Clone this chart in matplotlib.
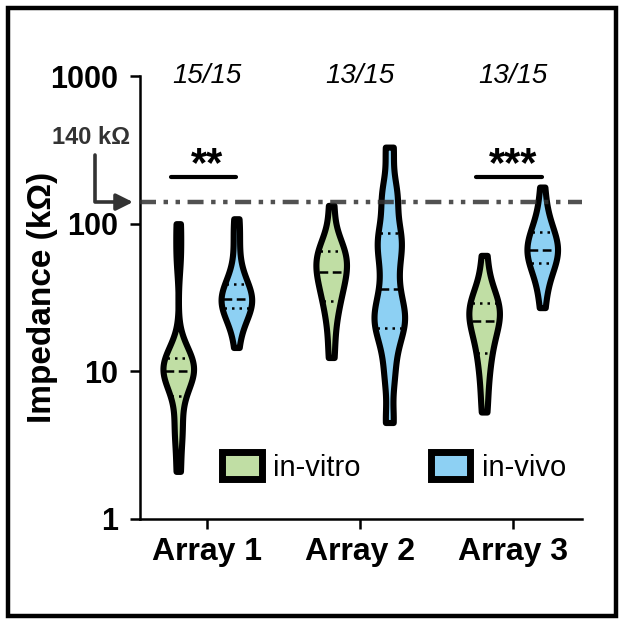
import matplotlib
matplotlib.use("Agg")
import matplotlib.pyplot as plt
import numpy as np
from matplotlib.patches import Patch, Rectangle


# impedance values (kOhm)
array1_vitro = [2.1, 3.6, 4.4, 6.8, 8.5, 9.3, 9.8, 10.0, 10.5, 11.0, 11.8, 12.4, 13.5, 60, 100]
array1_vivo = [14.5, 22, 25, 27, 28, 30, 30.5, 31, 32, 33, 36, 39, 54, 83, 108]
array2_vitro = [12.4, 20, 28, 32, 38, 44, 47, 52, 58, 63, 67, 72, 133]
array2_vivo = [4.5, 9, 14, 19.5, 21, 24, 28, 36, 50, 65, 80, 87, 140, 170, 330]
array3_vitro = [5.3, 8, 11, 13.3, 16, 19, 21, 22, 24, 27, 28.5, 29, 31, 40, 61]
array3_vivo = [27, 38, 46, 54, 58, 62, 64, 66, 68, 72, 80, 88, 95, 120, 177]

groups = ["Array 1", "Array 2", "Array 3"]
pass_labels = ["15/15", "13/15", "13/15"]
stars = ["**", "", "***"]
threshold = 140

GREEN = "#c0dea4"
BLUE = "#8dd0f3"
FONT = "Liberation Sans"


def kde_profile(values, bw=0.125, n=300):
    logv = np.log10(values)
    grid = np.linspace(logv.min(), logv.max(), n)
    dens = np.exp(-0.5 * ((grid[:, None] - logv[None, :]) / bw) ** 2).sum(axis=1)
    return grid, dens / dens.max()


def draw_violin(ax, values, pos, color, half_width=0.1):
    grid, dens = kde_profile(values)
    y = 10 ** grid
    ax.fill_betweenx(y, pos - half_width * dens, pos + half_width * dens,
                     facecolor=color, edgecolor="black", linewidth=4.4,
                     joinstyle="round", capstyle="round", zorder=3)
    q1, med, q3 = np.percentile(values, [25, 50, 75], method="weibull")
    for q, ls in [(q1, (0, (1, 2))), (med, (0, (3.5, 1.8))), (q3, (0, (1, 2)))]:
        w = half_width * np.interp(np.log10(q), grid, dens) * 0.85
        ax.plot([pos - w, pos + w], [q, q], color="black", lw=1.8, ls=ls, zorder=4)


def main():
    plt.rcParams["font.family"] = [FONT, "DejaVu Sans"]

    fig = plt.figure(figsize=(6.24, 6.24), dpi=100)
    ax = fig.add_axes([0.2244, 0.1683, 0.7083, 0.7099])

    vitro = [array1_vitro, array2_vitro, array3_vitro]
    vivo = [array1_vivo, array2_vivo, array3_vivo]
    positions = np.arange(1, len(groups) + 1)
    offset = 0.19

    for pos, v1, v2 in zip(positions, vitro, vivo):
        draw_violin(ax, v1, pos - offset, GREEN)
        draw_violin(ax, v2, pos + offset, BLUE)

    ax.axhline(threshold, color="#333333", lw=3.2, alpha=0.85,
               ls=(0, (3.6, 1.7, 1, 1.7, 1, 1.7)), zorder=5)

    ax.set_yscale("log")
    ax.set_ylim(1, 1000)
    ax.set_xlim(0.56, 3.45)
    ax.set_yticks([1, 10, 100, 1000])
    ax.set_yticklabels(["1", "10", "100", "1000"])
    ax.yaxis.set_minor_locator(matplotlib.ticker.NullLocator())
    ax.set_xticks(positions)
    ax.set_xticklabels(groups)

    for side in ["top", "right"]:
        ax.spines[side].set_visible(False)
    for side in ["left", "bottom"]:
        ax.spines[side].set_linewidth(1.8)
    ax.tick_params(axis="both", length=7, width=1.8)
    ax.tick_params(axis="y", labelsize=22, pad=9)
    ax.tick_params(axis="x", labelsize=23, pad=6)
    for lab in ax.get_xticklabels() + ax.get_yticklabels():
        lab.set_fontweight("bold")

    ax.set_ylabel("Impedance (kΩ)", fontsize=24, fontweight="bold", labelpad=-6)

    # pass counts along the top
    for pos, txt in zip(positions, pass_labels):
        ax.text(pos, 1000, txt, fontsize=20, style="italic", ha="center", va="center")

    # significance bars
    for pos, s in zip(positions, stars):
        if not s:
            continue
        ax.plot([pos - offset - 0.05, pos + offset], [208, 208], color="black",
                lw=3, solid_capstyle="round", zorder=5)
        ax.text(pos, 250, s, fontsize=30, fontweight="bold", ha="center", va="center")

    # 140 kOhm bent arrow
    trans = ax.get_yaxis_transform()
    ax.annotate("", xy=(-0.016, threshold), xycoords=trans,
                xytext=(-0.102, 290), textcoords=trans,
                arrowprops=dict(arrowstyle="-|>,head_length=1.0,head_width=0.5",
                                connectionstyle="angle,angleA=90,angleB=0,rad=0",
                                color="#333333", lw=2.6, shrinkA=0, shrinkB=0),
                annotation_clip=False)
    ax.text(-0.11, 385, "140 kΩ", transform=trans, fontsize=17, fontweight="bold",
            color="#333333", ha="center", va="center")

    handles = [Patch(facecolor=GREEN, edgecolor="black", linewidth=5, label="in-vitro"),
               Patch(facecolor=BLUE, edgecolor="black", linewidth=5, label="in-vivo")]
    ax.legend(handles=handles, loc="lower center", bbox_to_anchor=(0.575, 0.025), ncol=2,
              frameon=False, fontsize=21, handlelength=1.35, handleheight=1.05,
              columnspacing=2.4, handletextpad=0.4)

    fig.patches.append(Rectangle((0.013, 0.013), 0.974, 0.974, transform=fig.transFigure,
                                 fill=False, edgecolor="black", linewidth=3.2))

    fig.savefig("out.png", dpi=100)
    plt.close(fig)


if __name__ == "__main__":
    main()
